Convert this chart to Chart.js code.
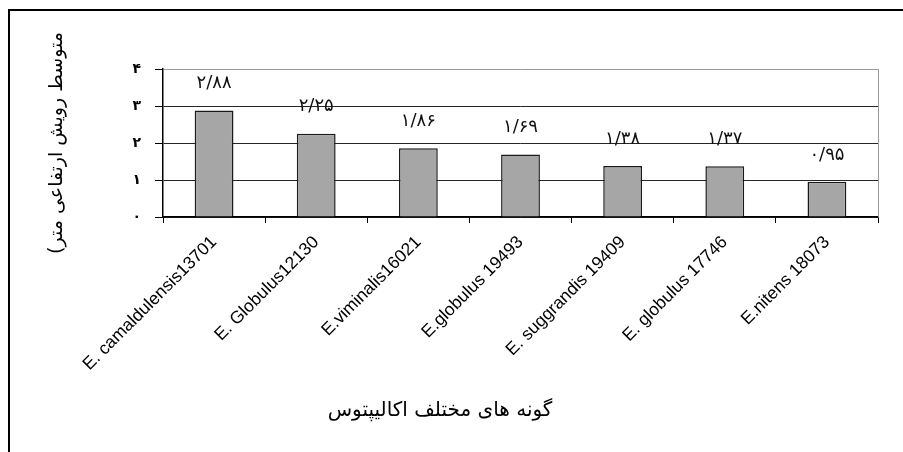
<!DOCTYPE html>
<html><head><meta charset="utf-8">
<script src="https://cdn.jsdelivr.net/npm/chart.js@4/dist/chart.umd.min.js"></script>
<style>html,body{margin:0;padding:0;background:#fff;}#wrap{width:903px;height:452px;}</style>
</head><body><div id="wrap"><canvas id="c" dir="rtl" width="903" height="452"></canvas></div>
<script>
const categories = ['E. camaldulensis13701','E. Globulus12130','E.viminalis16021','E.globulus 19493','E. suggrandis 19409','E. globulus 17746','E.nitens 18073'];
const growthValues = [2.88, 2.25, 1.86, 1.69, 1.38, 1.37, 0.95];
const yTickLabels = ['۰','۱','۲','۳','۴'];
const yTitle = 'متوسط رویش ارتفاعی متر)';
const xTitle = 'گونه های مختلف اکالیپتوس';

const faDigits = '۰۱۲۳۴۵۶۷۸۹';
function toFa(s){ return s.replace(/[0-9]/g, d => faDigits[+d]).replace('.', '/'); }
const valueLabels = growthValues.map(v => toFa(v.toFixed(2)));

const framePlugin = {
  id: 'frame',
  beforeDraw(chart){
    const ctx = chart.ctx;
    ctx.save();
    ctx.fillStyle = '#fff';
    ctx.fillRect(0,0,chart.width,chart.height);
    ctx.strokeStyle = '#000';
    ctx.lineWidth = 2;
    ctx.beginPath();
    ctx.moveTo(9, chart.height + 5);
    ctx.lineTo(9, 10);
    ctx.lineTo(chart.width + 5, 10);
    ctx.stroke();
    ctx.restore();
  },
  beforeDatasetsDraw(chart){
    const {ctx, chartArea} = chart;
    ctx.save();
    ctx.strokeStyle = '#9a9a9a';
    ctx.lineWidth = 1;
    ctx.beginPath();
    ctx.moveTo(Math.round(chartArea.right) + 0.5, chartArea.top);
    ctx.lineTo(Math.round(chartArea.right) + 0.5, chartArea.bottom);
    ctx.stroke();
    ctx.restore();
  },
  afterDatasetsDraw(chart){
    const ctx = chart.ctx;
    const meta = chart.getDatasetMeta(0);
    ctx.save();
    ctx.fillStyle = '#111';
    ctx.font = '18px "DejaVu Sans"';
    ctx.textAlign = 'center';
    ctx.textBaseline = 'middle';
    meta.data.forEach((bar, i) => {
      ctx.fillText(valueLabels[i], bar.x, bar.y - 27);
    });
    ctx.font = '20px "DejaVu Sans"';
    ctx.fillStyle = '#000';
    ctx.fillText(xTitle, 440, 411);
    ctx.restore();
  }
};

new Chart(document.getElementById('c'), {
  type: 'bar',
  data: {
    labels: categories,
    datasets: [{
      data: growthValues,
      backgroundColor: '#a6a6a6',
      borderColor: '#1a1a1a',
      borderWidth: 1.5,
      categoryPercentage: 1,
      barPercentage: 0.38
    }]
  },
  options: {
    responsive: false,
    animation: false,
    devicePixelRatio: 1,
    layout: { padding: { top: 69, right: 25, left: 0, bottom: 0 } },
    plugins: { legend: { display: false }, tooltip: { enabled: false } },
    scales: {
      x: {
        grid: { display: true, drawOnChartArea: false, drawTicks: true, tickLength: 6, color: '#000', offset: true },
        border: { display: true, color: '#000', width: 1.5 },
        ticks: { color: '#000', font: { family: 'Arial, "Liberation Sans"', size: 17.5 }, minRotation: 45, maxRotation: 45, autoSkip: false, padding: 9 },
        afterFit(scale){ scale.height = 452 - 217; }
      },
      y: {
        min: 0, max: 4,
        ticks: { stepSize: 1, color: '#000', font: { family: '"DejaVu Sans"', size: 14, weight: 'bold' }, padding: 14,
          callback: (v) => yTickLabels[v] },
        grid: { drawTicks: true, tickLength: 8, tickColor: '#000',
          color: (c) => (c.tick && c.tick.value === 4) ? '#9a9a9a' : '#262626', lineWidth: 1 },
        border: { display: true, color: '#000', width: 1.5 },
        title: { display: true, text: yTitle, color: '#000', font: { family: '"DejaVu Sans"', size: 19 }, padding: { top: 46, bottom: 0 } },
        afterFit(scale){ scale.width = 163; }
      }
    }
  },
  plugins: [framePlugin]
});
</script></body></html>
